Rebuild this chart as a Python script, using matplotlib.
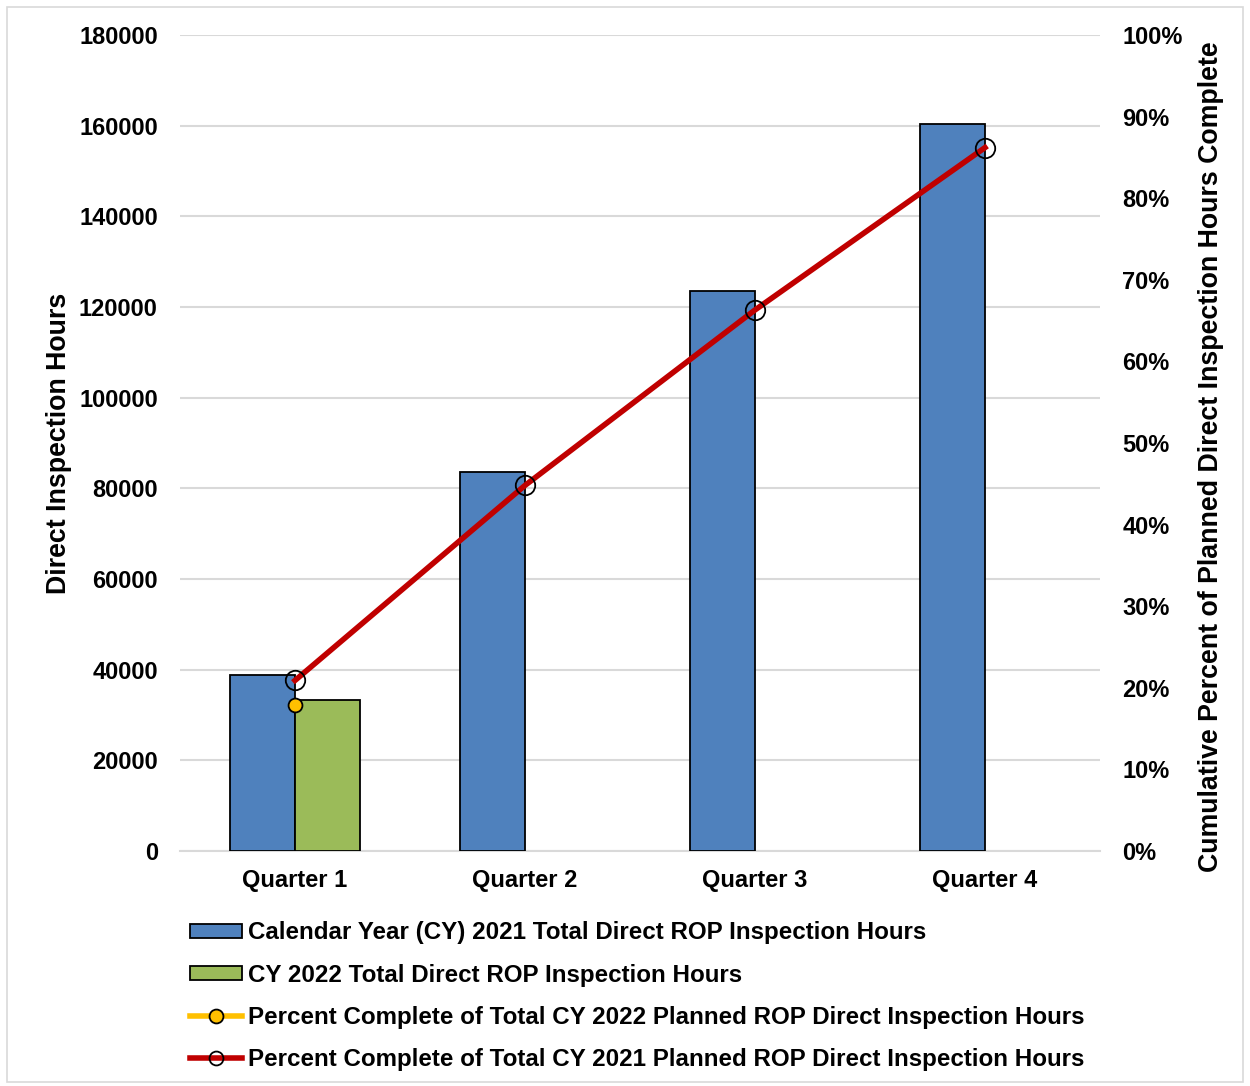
import matplotlib
matplotlib.use("Agg")
import matplotlib.pyplot as plt
import numpy as np
from matplotlib.patches import Rectangle
from matplotlib.lines import Line2D

categories = ["Quarter 1", "Quarter 2", "Quarter 3", "Quarter 4"]
hours_2021 = [38800, 83600, 123500, 160400]
hours_2022 = [33300]
pct_2021 = [20.9, 44.8, 66.3, 86.2]
pct_2022 = [17.9]
left_ticks = [0, 20000, 40000, 60000, 80000, 100000, 120000, 140000, 160000, 180000]
right_ticks = [0, 10, 20, 30, 40, 50, 60, 70, 80, 90, 100]

labels = ["Calendar Year (CY) 2021 Total Direct ROP Inspection Hours",
          "CY 2022 Total Direct ROP Inspection Hours",
          "Percent Complete of Total CY 2022 Planned ROP Direct Inspection Hours",
          "Percent Complete of Total CY 2021 Planned ROP Direct Inspection Hours"]

plt.rcParams['font.family'] = ['Liberation Sans', 'DejaVu Sans']
plt.rcParams['font.weight'] = 'bold'

blue = '#4f81bd'
green = '#9bbb59'
red = '#c00000'
yellow = '#ffc000'

fig = plt.figure(figsize=(12.5, 10.86), dpi=100)
ax = fig.add_axes([0.144, 0.2164, 0.736, 0.7514])
ax2 = ax.twinx()

x = np.arange(len(categories))
w = 0.283
ax.bar(x - w/2, hours_2021, width=w, color=blue, edgecolor='black', linewidth=1.3, zorder=3)
ax.bar(x[:len(hours_2022)] + w/2, hours_2022, width=w, color=green, edgecolor='black', linewidth=1.3, zorder=3)

ax.set_ylim(0, 180000)
ax.set_xlim(-0.5, 3.5)
ax.set_yticks(left_ticks)
ax.set_yticklabels([str(v) for v in left_ticks], fontsize=17, fontweight='bold')
ax.set_xticks(x)
ax.set_xticklabels(categories, fontsize=17, fontweight='bold')
ax.tick_params(axis='x', length=0, pad=13)
ax.tick_params(axis='y', length=0, pad=16)
ax.grid(axis='y', color='#d9d9d9', linewidth=1.5, zorder=0)
ax.set_axisbelow(True)
for s in ['top', 'left', 'right']:
    ax.spines[s].set_visible(False)
ax.spines['bottom'].set_color('#d9d9d9')
ax.spines['bottom'].set_linewidth(1.5)
ax.set_ylabel("Direct Inspection Hours", fontsize=19.3, fontweight='bold', labelpad=5)

ax2.plot(x, pct_2021, color=red, linewidth=4, marker='o', markersize=14,
         markerfacecolor='none', markeredgecolor='black', markeredgewidth=1.3, zorder=5)
ax2.plot(x[:len(pct_2022)], pct_2022, color=yellow, linewidth=4, marker='o', markersize=10,
         markerfacecolor=yellow, markeredgecolor='black', markeredgewidth=1.3, zorder=5)
ax2.set_ylim(0, 100)
ax2.set_yticks(right_ticks)
ax2.set_yticklabels([f"{v}%" for v in right_ticks], fontsize=17, fontweight='bold')
ax2.tick_params(axis='y', length=0, pad=16)
for s in ax2.spines.values():
    s.set_visible(False)
ax2.set_ylabel("Cumulative Percent of Planned Direct Inspection Hours Complete",
               fontsize=19.3, fontweight='bold', labelpad=11)
ax2.yaxis.label.set_y(0.4828)

handles = [Rectangle((0, 0), 1, 1, facecolor=blue, edgecolor='black', linewidth=1.3),
           Rectangle((0, 0), 1, 1, facecolor=green, edgecolor='black', linewidth=1.3),
           Line2D([], [], color=yellow, linewidth=4, marker='o', markersize=10,
                  markerfacecolor=yellow, markeredgecolor='black', markeredgewidth=1.3),
           Line2D([], [], color=red, linewidth=4, marker='o', markersize=10,
                  markerfacecolor='none', markeredgecolor='black', markeredgewidth=1.3)]
leg = fig.legend(handles, labels, loc='upper left', bbox_to_anchor=(0.152, 0.1516),
                 frameon=False, fontsize=17.4, handlelength=2.15, handleheight=0.55,
                 handletextpad=0.25, labelspacing=0.8, borderaxespad=0, borderpad=0)
for t in leg.get_texts():
    t.set_fontweight('bold')

fig.patches.append(Rectangle((0.0056, 0.0037), 0.9888, 0.9899, transform=fig.transFigure,
                             fill=False, edgecolor='#d9d9d9', linewidth=1.2))

fig.savefig("out.png", dpi=100, facecolor='white')
